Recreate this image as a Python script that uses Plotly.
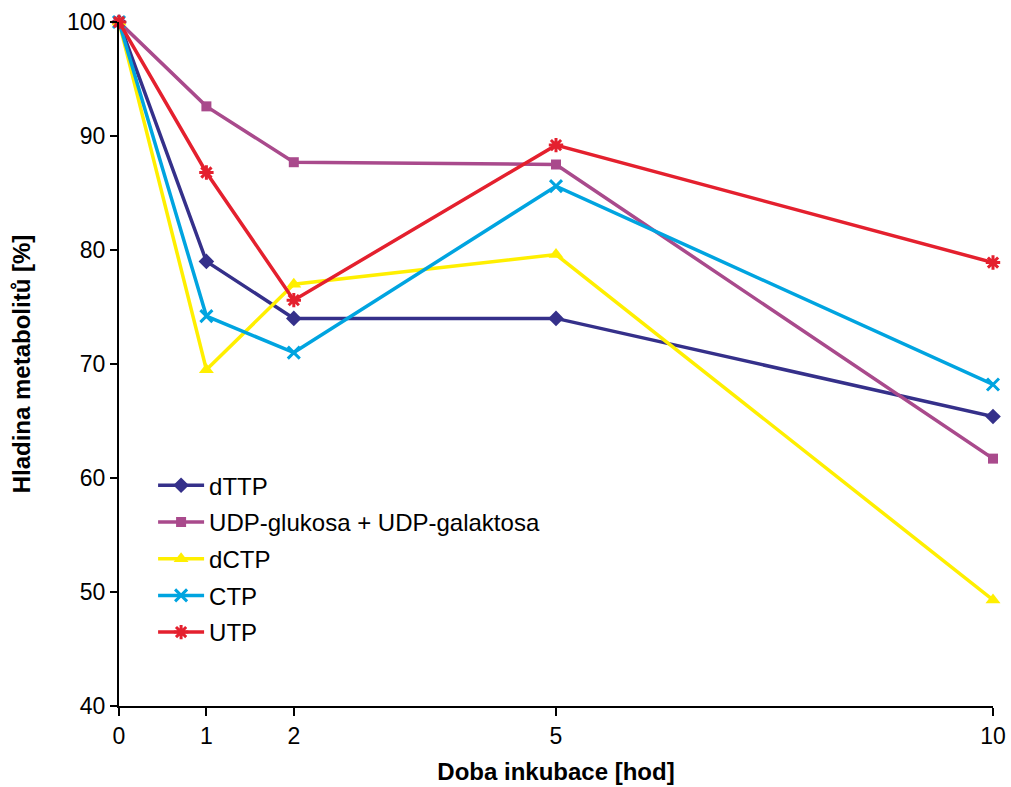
import plotly.graph_objects as go

hours = [0, 1, 2, 5, 10]
dTTP = [100, 79.0, 74.0, 74.0, 65.4]
udp_glc_gal = [100, 92.6, 87.7, 87.5, 61.7]
dCTP = [100, 69.5, 77.0, 79.6, 49.3]
CTP = [100, 74.2, 71.0, 85.6, 68.2]
UTP = [100, 86.8, 75.6, 89.2, 78.9]

series = [
    ("dTTP", dTTP, "#35308A", "diamond", 12),
    ("UDP-glukosa + UDP-galaktosa", udp_glc_gal, "#A94A8C", "square", 10),
    ("dCTP", dCTP, "#FFEF00", "triangle-up", 13),
    ("CTP", CTP, "#00A4E0", "x-thin-open", 12),
    ("UTP", UTP, "#E4202E", "asterisk-open", 12),
]

fig = go.Figure()
for name, vals, col, sym, sz in series:
    open_sym = sym.endswith("open")
    fig.add_trace(go.Scatter(
        x=hours, y=vals, name=name, mode="lines+markers", legendgroup=name,
        line=dict(color=col, width=3.5),
        marker=dict(symbol=sym, size=sz, color=col,
                    line=dict(color=col, width=3 if open_sym else 0)),
        cliponaxis=False,
    ))

fig.update_layout(
    width=1011, height=787,
    margin=dict(l=119, r=18, t=22, b=81),
    paper_bgcolor="white", plot_bgcolor="white",
    font=dict(family="Liberation Sans, Arial, sans-serif", size=23, color="black"),
    showlegend=True,
    legend=dict(x=0.039, y=0.355, xanchor="left", yanchor="top",
                font=dict(size=24), bgcolor="rgba(0,0,0,0)",
                itemwidth=46, tracegroupgap=2.5),
    xaxis=dict(range=[0, 10], tickvals=hours, ticks="outside", ticklen=8,
               tickwidth=1.5, tickcolor="black", showline=True, linecolor="black",
               linewidth=2, showgrid=False, zeroline=False, automargin=False,
               tickfont=dict(size=23),
               title=dict(text="<b>Doba inkubace [hod]</b>", font=dict(size=24), standoff=16)),
    yaxis=dict(range=[40, 100], tickvals=[40, 50, 60, 70, 80, 90, 100], ticks="outside",
               ticklen=7, tickwidth=1.5, tickcolor="black", showline=True, linecolor="black",
               linewidth=2, showgrid=False, zeroline=False, automargin=False,
               tickfont=dict(size=23),
               title=dict(text="<b>Hladina metabolitů [%]</b>", font=dict(size=24), standoff=30)),
)

fig.write_html("out.html")
